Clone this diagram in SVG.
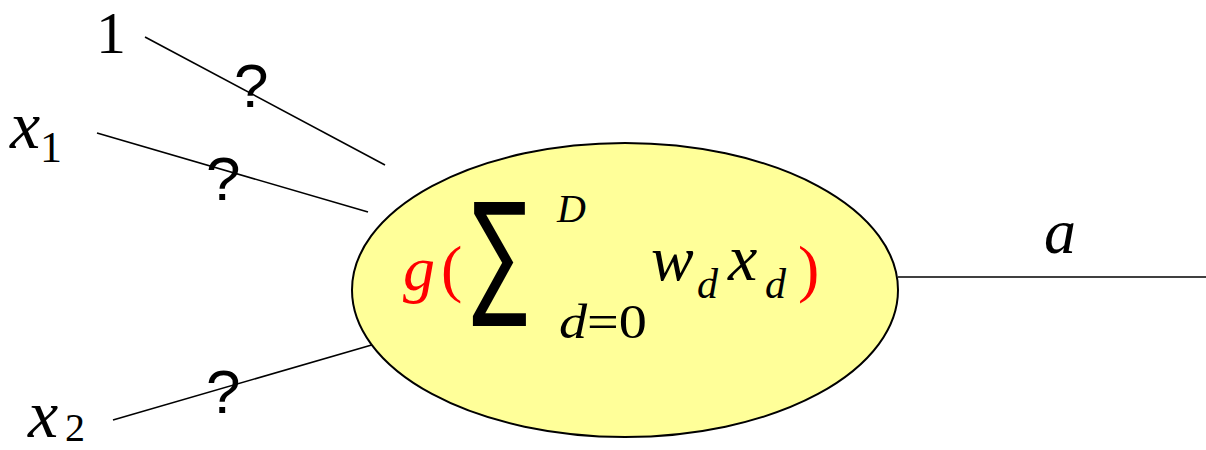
<svg xmlns="http://www.w3.org/2000/svg" width="1206" height="450" viewBox="0 0 1206 450">
<style>
.m{font-family:"Liberation Serif",serif;font-style:italic;fill:#000}
.n{font-family:"Liberation Serif",serif;fill:#000}
.r{fill:#FF0000}
.q{font-family:"Liberation Sans",Arial,sans-serif;font-size:62px;fill:#000}
.ln{stroke:#000;stroke-width:1.6;fill:none}
</style>
<rect width="1206" height="450" fill="#fff"/>
<g id="connectors">
<line class="ln" x1="145" y1="37" x2="385" y2="165"/>
<line class="ln" x1="97" y1="133" x2="368" y2="212"/>
<line class="ln" x1="113" y1="420" x2="382" y2="342"/>
<line class="ln" x1="898" y1="277" x2="1206" y2="277"/>
</g>
<g id="neuron">
<ellipse cx="625" cy="290" rx="273" ry="147" fill="#FFFF99" stroke="#000" stroke-width="2"/>
<text class="m r" x="403" y="290" font-size="64">g</text>
<text class="n r" x="441" y="290" font-size="64">(</text>
<text x="0" y="0" font-family="DejaVu Sans, sans-serif" font-size="118" fill="#000" transform="translate(472 300) scale(0.7 1.157)">∑</text>
<text class="m" x="557" y="222" font-size="40">D</text>
<text class="m" x="559" y="338" font-size="48" textLength="88" lengthAdjust="spacingAndGlyphs">d<tspan class="n" font-style="normal">=0</tspan></text>
<text class="m" x="651" y="280" font-size="64">w</text>
<text class="m" x="697" y="298" font-size="42">d</text>
<text class="m" x="728" y="280" font-size="66">x</text>
<text class="m" x="765" y="298" font-size="42">d</text>
<text class="n r" x="798" y="290" font-size="64">)</text>
</g>
<g id="input-bias">
<text class="n" x="96" y="53" font-size="60">1</text>
<text class="q" x="234" y="107">?</text>
</g>
<g id="input-x1">
<text class="m" x="10" y="148" font-size="68">x</text>
<text class="n" x="40" y="162" font-size="44">1</text>
<text class="q" x="206" y="200">?</text>
</g>
<g id="input-x2">
<text class="m" x="28" y="437" font-size="68">x</text>
<text class="n" x="65" y="441" font-size="40">2</text>
<text class="q" x="206" y="413">?</text>
</g>
<g id="output">
<text class="m" x="1044" y="253" font-size="64">a</text>
</g>
</svg>
